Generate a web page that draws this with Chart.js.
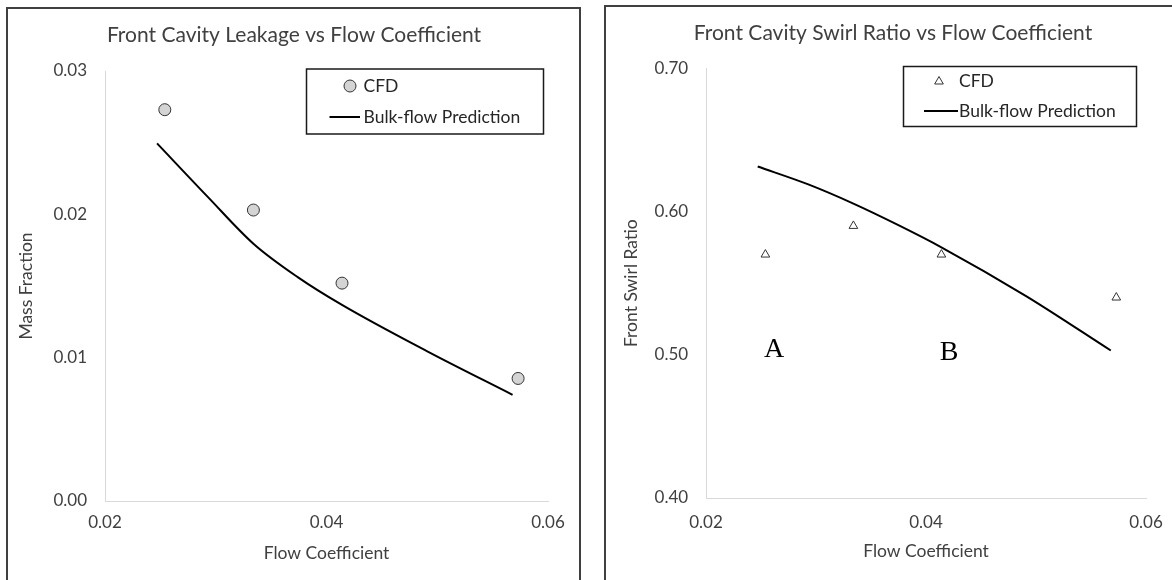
<!DOCTYPE html>
<html>
<head>
<meta charset="utf-8">
<script src="https://cdn.jsdelivr.net/npm/chart.js@4.4.1/dist/chart.umd.min.js"></script>
<style>
  html, body { margin: 0; padding: 0; background: #fff; overflow: hidden; width: 1172px; height: 580px; }
  .panel { position: absolute; box-sizing: border-box; border: 2px solid #404040; }
  canvas { position: absolute; }
</style>
</head>
<body>
<div class="panel" style="left:6px;top:7px;width:575px;height:640px"></div>
<div class="panel" style="left:604px;top:5px;width:640px;height:640px"></div>
<canvas id="leakChart" style="left:8px;top:9px" width="572" height="580"></canvas>
<canvas id="swirlChart" style="left:607px;top:8px" width="572" height="580"></canvas>
<script>
// values
const cfdFlow = [0.0254, 0.0334, 0.0414, 0.0573];
const cfdLeakage = [0.0273, 0.0203, 0.0152, 0.00855];
const cfdSwirl = [0.570, 0.590, 0.570, 0.540];

const bulkFlow = [0.0247, 0.0293, 0.0334, 0.0374, 0.0414, 0.0491, 0.0568];
const bulkLeakage = [0.02495, 0.0212, 0.01795, 0.01562, 0.01368, 0.01044, 0.00741];
const bulkSwirl = [0.6315, 0.619, 0.6056, 0.5909, 0.5751, 0.541, 0.503];

const flowTicks = [0.02, 0.04, 0.06];
const leakTicks = [0.00, 0.01, 0.02, 0.03];
const swirlTicks = [0.40, 0.50, 0.60, 0.70];

const tagText = ['A', 'B'];
const tagFlow = [0.0262, 0.0421];
const tagSwirl = [0.505, 0.503];

Chart.defaults.font.family = 'Lato';
Chart.defaults.color = '#404040';

const pairs = (xs, ys) => xs.map((x, i) => ({ x: x, y: ys[i] }));

// legend drawn as a framed box inside the plot, like the Excel one
const boxLegend = {
  id: 'boxLegend',
  afterDraw(chart, args, o) {
    const ctx = chart.ctx;
    ctx.save();
    ctx.strokeStyle = '#1a1a1a';
    ctx.lineWidth = 1.5;
    ctx.strokeRect(o.x, o.y, o.w, o.h);
    ctx.font = '17.5px Lato';
    ctx.fillStyle = '#262626';
    ctx.textBaseline = 'middle';
    ctx.fillText('CFD', o.textX, o.row1);
    ctx.fillText('Bulk-flow Prediction', o.textX, o.row2);
    // marker
    ctx.lineWidth = 1;
    ctx.strokeStyle = '#333';
    if (o.marker === 'circle') {
      ctx.fillStyle = '#d4d4d4';
      ctx.beginPath();
      ctx.arc(o.markX, o.row1, 6, 0, Math.PI * 2);
      ctx.fill();
      ctx.stroke();
    } else {
      const r = 5;
      ctx.fillStyle = '#fff';
      ctx.beginPath();
      ctx.moveTo(o.markX, o.row1 - r);
      ctx.lineTo(o.markX + r * 0.866, o.row1 + r / 2);
      ctx.lineTo(o.markX - r * 0.866, o.row1 + r / 2);
      ctx.closePath();
      ctx.fill();
      ctx.stroke();
    }
    ctx.strokeStyle = '#000';
    ctx.lineWidth = 2;
    ctx.beginPath();
    ctx.moveTo(o.lineX1, o.row2);
    ctx.lineTo(o.lineX2, o.row2);
    ctx.stroke();
    ctx.restore();
  }
};

const letterTags = {
  id: 'letterTags',
  afterDatasetsDraw(chart, args, o) {
    if (!o.text) return;
    const { ctx, scales } = chart;
    ctx.save();
    ctx.font = '28px "Liberation Serif"';
    ctx.fillStyle = '#000';
    ctx.textAlign = 'center';
    ctx.textBaseline = 'alphabetic';
    o.text.forEach((t, i) => {
      ctx.fillText(t, scales.x.getPixelForValue(o.xs[i]), scales.y.getPixelForValue(o.ys[i]) + 9.5);
    });
    ctx.restore();
  }
};

function makeChart(id, p) {
  return new Chart(document.getElementById(id), {
    type: 'scatter',
    data: {
      datasets: [
        {
          label: 'CFD',
          data: pairs(cfdFlow, p.cfd),
          pointStyle: p.marker,
          pointRadius: p.marker === 'circle' ? 6 : 5,
          backgroundColor: p.marker === 'circle' ? '#d4d4d4' : '#fff',
          borderColor: '#333',
          borderWidth: 1,
        },
        {
          label: 'Bulk-flow Prediction',
          data: pairs(bulkFlow, p.bulk),
          showLine: true,
          cubicInterpolationMode: 'monotone',
          pointRadius: 0,
          borderColor: '#000',
          borderWidth: 2,
        },
      ],
    },
    options: {
      responsive: false,
      animation: false,
      layout: { padding: { bottom: 20 } },
      scales: {
        x: {
          type: 'linear',
          min: 0.02,
          max: 0.06,
          afterBuildTicks: (a) => { a.ticks = flowTicks.map((v) => ({ value: v })); },
          afterFit: (s) => { s.height = p.xHeight; },
          grid: { drawOnChartArea: false, drawTicks: false },
          border: { color: '#d9d9d9', width: 1 },
          ticks: { padding: p.xTickPad, font: { size: 17 }, callback: (v) => Number(v).toFixed(2) },
          title: { display: true, text: 'Flow Coefficient', font: { size: 17.5 }, padding: { top: 0, bottom: p.xTitlePad } },
        },
        y: {
          type: 'linear',
          min: p.ticks[0],
          max: p.ticks[p.ticks.length - 1],
          afterBuildTicks: (a) => { a.ticks = p.ticks.map((v) => ({ value: v })); },
          afterFit: (s) => { s.width = p.yWidth; },
          grid: { drawOnChartArea: false, drawTicks: false },
          border: { color: '#d9d9d9', width: 1 },
          ticks: { padding: p.yTickPad, font: { size: 17 }, callback: (v) => Number(v).toFixed(2) },
          title: { display: true, text: p.yTitle, font: { size: 17.5 }, padding: { top: p.yTitlePad, bottom: 0 } },
        },
        gap: {
          type: 'linear',
          position: 'right',
          grid: { display: false, drawTicks: false },
          border: { display: false },
          ticks: { display: false },
          afterFit: (s) => { s.width = p.rightGap; },
        },
      },
      plugins: {
        legend: { display: false },
        tooltip: { enabled: false },
        title: {
          display: true,
          text: p.title,
          color: '#404040',
          font: { size: 21, weight: 'normal', lineHeight: 1.2 },
          padding: { top: p.titleTop, bottom: p.titleBottom },
        },
        boxLegend: p.legend,
        letterTags: p.tags || {},
      },
    },
    plugins: [boxLegend, letterTags],
  });
}

makeChart('leakChart', {
  title: 'Front Cavity Leakage vs Flow Coefficient',
  yTitle: 'Mass Fraction',
  cfd: cfdLeakage,
  bulk: bulkLeakage,
  ticks: leakTicks,
  marker: 'circle',
  yWidth: 97, rightGap: 32, xHeight: 68,
  xTickPad: 11.8, xTitlePad: 5.5, yTickPad: 18, yTitlePad: 8,
  titleTop: 13.4, titleBottom: 23.4,
  legend: { marker: 'circle', x: 298.5, y: 60, w: 237, h: 65, row1: 77, row2: 108, markX: 342, textX: 355.5, lineX1: 321.5, lineX2: 352 },
});

makeChart('swirlChart', {
  title: 'Front Cavity Swirl Ratio vs Flow Coefficient',
  yTitle: 'Front Swirl Ratio',
  cfd: cfdSwirl,
  bulk: bulkSwirl,
  ticks: swirlTicks,
  marker: 'triangle',
  yWidth: 99, rightGap: 33, xHeight: 70,
  xTickPad: 14.6, xTitlePad: 6.5, yTickPad: 17.8, yTitlePad: 14.1,
  titleTop: 12.4, titleBottom: 22.8,
  legend: { marker: 'triangle', x: 296.5, y: 58.5, w: 233, h: 60, row1: 73.5, row2: 103, markX: 332, textX: 352, lineX1: 317, lineX2: 351 },
  tags: { text: tagText, xs: tagFlow, ys: tagSwirl },
});
</script>
</body>
</html>
